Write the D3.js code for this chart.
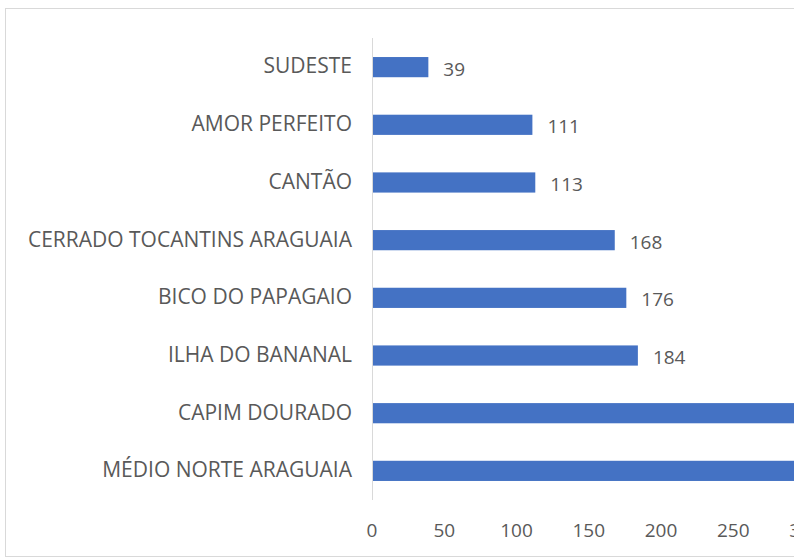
<!DOCTYPE html>
<html>
<head>
<meta charset="utf-8">
<script src="https://cdn.jsdelivr.net/npm/d3@7"></script>
<style>
  body { margin: 0; background: #fff; }
  text { font-family: "Open Sans", "Noto Sans", sans-serif; fill: #595959; }
</style>
</head>
<body>
<svg id="chart" width="794" height="560"></svg>
<script>
// data (top to bottom as drawn)
var regions = [
  "SUDESTE",
  "AMOR PERFEITO",
  "CANTÃO",
  "CERRADO TOCANTINS ARAGUAIA",
  "BICO DO PAPAGAIO",
  "ILHA DO BANANAL",
  "CAPIM DOURADO",
  "MÉDIO NORTE ARAGUAIA"
];
// last two bars run off the picture, their values are guessed
var counts = [39, 111, 113, 168, 176, 184, 340, 360];
var ticks = [0, 50, 100, 150, 200, 250, 300];

var svg = d3.select('#chart');

// outer chart frame (cut off on the right like the screenshot)
svg.append('rect')
  .attr('x', 5.5).attr('y', 8.5)
  .attr('width', 900).attr('height', 548)
  .attr('fill', '#fff')
  .attr('stroke', '#d9d9d9');

var x = d3.scaleLinear().domain([0, 300]).range([372, 805.5]);
var y = d3.scaleBand().domain(regions).range([38, 500]).paddingInner(0.65).paddingOuter(0.33);

// bars
svg.append('g').selectAll('rect')
  .data(counts)
  .enter().append('rect')
  .attr('x', x(0))
  .attr('y', (d, i) => y(regions[i]))
  .attr('width', d => x(d) - x(0))
  .attr('height', y.bandwidth())
  .attr('fill', '#4472c4');

// value labels
svg.append('g').selectAll('text')
  .data(counts)
  .enter().append('text')
  .attr('x', d => x(d) + 15)
  .attr('y', (d, i) => y(regions[i]) + y.bandwidth() / 2 + 2)
  .attr('dy', '0.35em')
  .style('font-size', '19px')
  .text(d => d);

// vertical axis line
svg.append('line')
  .attr('x1', x(0) + 0.5).attr('x2', x(0) + 0.5)
  .attr('y1', 38).attr('y2', 500)
  .attr('stroke', '#d9d9d9');

// category labels
svg.append('g').selectAll('text')
  .data(regions)
  .enter().append('text')
  .attr('x', x(0) - 20)
  .attr('y', d => y(d) + y.bandwidth() / 2 - 1)
  .attr('dy', '0.35em')
  .attr('text-anchor', 'end')
  .style('font-size', '21px')
  .text(d => d);

// x tick labels
svg.append('g').selectAll('text')
  .data(ticks)
  .enter().append('text')
  .attr('x', d => x(d))
  .attr('y', 530)
  .attr('dy', '0.35em')
  .attr('text-anchor', 'middle')
  .style('font-size', '19px')
  .text(d => d);
</script>
</body>
</html>
